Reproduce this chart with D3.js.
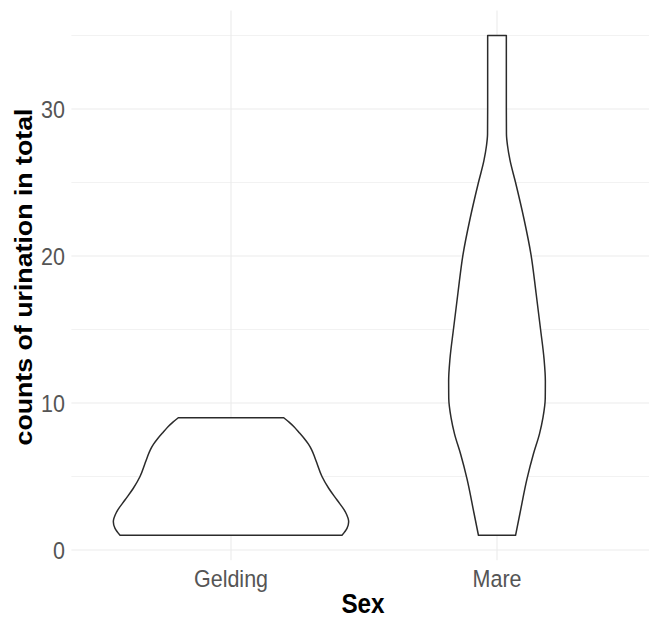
<!DOCTYPE html>
<html>
<head>
<meta charset="utf-8">
<script src="https://cdn.jsdelivr.net/npm/d3@7"></script>
<style>
html,body{margin:0;padding:0;background:#fff;}
svg{display:block;}
text{font-family:"Liberation Sans", Arial, Helvetica, sans-serif;}
</style>
</head>
<body>
<svg id="chart" width="649" height="619"></svg>
<script>
// ---- data ----
const categories = ["Gelding", "Mare"];
const geldingY    = [1, 1.47, 1.93, 2.6, 3.4, 4.2, 5.0, 5.9, 6.3, 6.8, 7.2, 7.6, 8.0, 8.4, 8.7, 9.0];
const geldingDens = [0.927, 0.969, 0.983, 0.955, 0.886, 0.816, 0.760, 0.718, 0.700, 0.675, 0.647, 0.610, 0.568, 0.524, 0.485, 0.44];
const mareY       = [1, 2.5, 4.86, 6.5, 7.9, 9, 10.3, 11.5, 13, 15, 17.5, 20.1, 22.5, 25, 26.5, 27.5, 28.3, 30, 35];
const mareDens    = [0.155, 0.192, 0.251, 0.303, 0.355, 0.384, 0.403, 0.404, 0.393, 0.364, 0.326, 0.284, 0.226, 0.155, 0.109, 0.088, 0.079, 0.078, 0.078];
const yMajorTicks = [0, 10, 20, 30];
const yMinorTicks = [5, 15, 25, 35];
const xTitle = "Sex";
const yTitle = "counts of urination in total";

// ---- layout ----
const svg = d3.select("#chart");
const panel = {left: 71.4, right: 656.6, top: 10.5, bottom: 560.3};

const x = d3.scalePoint().domain(categories).range([panel.left, panel.right]).padding(0.6);
const y = d3.scaleLinear().domain([-0.7, 36.7]).range([panel.bottom, panel.top]);
const w = d3.scaleLinear().domain([0, 1]).range([0, 0.45 * x.step()]);

const grid = svg.append("g");
grid.selectAll("line.minor").data(yMinorTicks).join("line")
  .attr("x1", panel.left).attr("x2", 649)
  .attr("y1", d => y(d)).attr("y2", d => y(d))
  .attr("stroke", "#f0f0f0").attr("stroke-width", 0.9);
grid.selectAll("line.major").data(yMajorTicks).join("line")
  .attr("x1", panel.left).attr("x2", 649)
  .attr("y1", d => y(d)).attr("y2", d => y(d))
  .attr("stroke", "#ebebeb").attr("stroke-width", 1.1);
grid.selectAll("line.vx").data(categories).join("line")
  .attr("x1", d => x(d)).attr("x2", d => x(d))
  .attr("y1", panel.top).attr("y2", panel.bottom)
  .attr("stroke", "#ebebeb").attr("stroke-width", 1.1);

// violins
const violins = [
  {cat: "Gelding", pts: geldingY.map((v, i) => ({y: v, d: geldingDens[i]}))},
  {cat: "Mare", pts: mareY.map((v, i) => ({y: v, d: mareDens[i]}))}
];
violins.forEach(v => {
  const cx = x(v.cat);
  const pts = v.pts.slice().sort((a, b) => b.y - a.y); // ascending screen y
  const area = d3.area()
    .y(p => y(p.y))
    .x0(p => cx - w(p.d))
    .x1(p => cx + w(p.d))
    .curve(d3.curveMonotoneY);
  svg.append("path").datum(pts)
    .attr("d", area)
    .attr("fill", "#ffffff")
    .attr("stroke", "#2b2b2b")
    .attr("stroke-width", 1.5)
    .attr("stroke-linejoin", "round");
});

// y tick labels
svg.selectAll("text.ytick").data(yMajorTicks).join("text")
  .attr("text-anchor", "end")
  .attr("transform", d => `translate(65,${y(d)}) scale(1,1.1)`)
  .attr("dy", "0.36em")
  .attr("font-size", 21.5)
  .attr("fill", "#555555")
  .text(d => d);

// x tick labels
svg.selectAll("text.xtick").data(categories).join("text")
  .attr("text-anchor", "middle")
  .attr("transform", d => `translate(${x(d)},587) scale(1,1.1)`)
  .attr("font-size", 21.5)
  .attr("fill", "#555555")
  .text(d => d);

// axis titles
svg.append("text")
  .attr("text-anchor", "middle")
  .attr("transform", `translate(363,613) scale(1,1.1)`)
  .attr("font-size", 24.3).attr("font-weight", "bold").attr("fill", "#000")
  .text(xTitle);

svg.append("text")
  .attr("text-anchor", "middle")
  .attr("transform", `translate(31.5,277) scale(1,1.1) rotate(-90)`)
  .attr("font-size", 24.3).attr("font-weight", "bold").attr("fill", "#000")
  .text(yTitle);
</script>
</body>
</html>
